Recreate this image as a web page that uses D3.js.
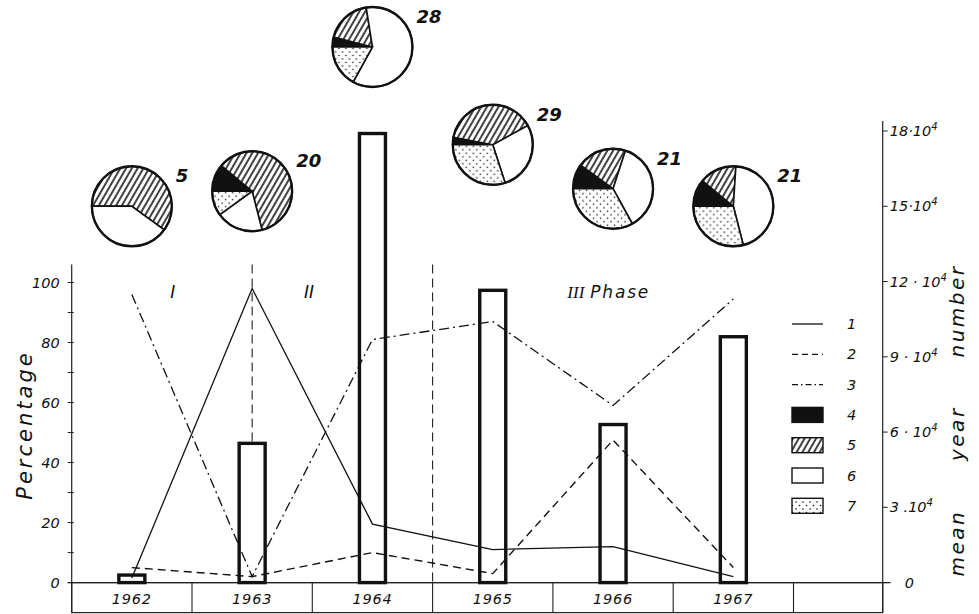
<!DOCTYPE html>
<html><head><meta charset="utf-8">
<script src="https://cdn.jsdelivr.net/npm/d3@7"></script>
<style>
body{margin:0;background:#fff}
text{font-family:"DejaVu Sans",sans-serif;font-style:italic;fill:#111}
</style>
</head><body>
<svg id="c" width="979" height="614"></svg>
<script>
// ---------- data ----------
const years = ["1962","1963","1964","1965","1966","1967"];
const line1 = [1.5, 98, 19.5, 11, 12, 2];      // %
const line2 = [5, 2, 10, 3, 47.5, 5];          // %
const line3 = [96, 2, 81, 87, 59, 94.5];       // %
const meanNumber = [0.3, 5.55, 17.9, 11.65, 6.3, 9.8]; // x10^4 (bars)
const share4 = [0, 11, 4, 3, 10, 11];
const share5 = [60, 60, 18.5, 39, 20, 15];
const share6 = [40, 19, 60.5, 28, 37, 45];
const share7 = [0, 10, 17, 30, 33, 29];
const pieCounts = ["5","20","28","29","21","21"];
const pieLevel = [15.0, 15.6, 21.35, 17.45, 15.7, 15.0]; // in right-axis units
const leftTicks = [0,20,40,60,80,100];
const leftMinor = [10,30,50,70,90];
const rightTicks = [0,3,6,9,12,15,18];
const rightTickLabels = ["0","3 .10","6 · 10","9 · 10","12 · 10","15·10","18·10"];
const legendLabels = ["1","2","3","4","5","6","7"];
const phaseLabels = ["I","II","III"];

// ---------- layout ----------
const svg = d3.select("#c");
const left = 71.7, right = 882.7, base = 582.6, boxH = 30;
const x = d3.scaleBand().domain(years).range([left, 793.5]).padding(0);
const bw = x.bandwidth();
const cx = d => x(d) + bw/2;
const yL = d3.scaleLinear().domain([0,100]).range([base, 282.5]);
const yR = d3.scaleLinear().domain([0,18]).range([base, 131]);

// patterns
const defs = svg.append("defs");
const ph = defs.append("pattern").attr("id","hatch").attr("patternUnits","userSpaceOnUse")
  .attr("width",5).attr("height",10).attr("patternTransform","rotate(30)");
ph.append("rect").attr("width",5).attr("height",10).attr("fill","#fff");
ph.append("line").attr("x1",1).attr("x2",1).attr("y1",-1).attr("y2",11).attr("stroke","#111").attr("stroke-width",1.6);
const pd = defs.append("pattern").attr("id","dots").attr("patternUnits","userSpaceOnUse")
  .attr("width",7).attr("height",7);
pd.append("rect").attr("width",7).attr("height",7).attr("fill","#fff");
pd.append("circle").attr("cx",1.5).attr("cy",1.5).attr("r",0.8).attr("fill","#111");
pd.append("circle").attr("cx",5).attr("cy",5).attr("r",0.8).attr("fill","#111");
const fills = ["#111","url(#hatch)","#fff","url(#dots)"];

// bottom box
svg.append("rect").attr("x",left).attr("y",base).attr("width",right-left).attr("height",boxH)
  .attr("fill","none").attr("stroke","#222").attr("stroke-width",1.2);
svg.selectAll(".div").data(years.slice(1).concat(["end"])).enter().append("line")
  .attr("x1",(d,i)=> i<5 ? x(d) : x("1967")+bw).attr("x2",(d,i)=> i<5 ? x(d) : x("1967")+bw)
  .attr("y1",base).attr("y2",base+boxH).attr("stroke","#222").attr("stroke-width",1.1);
svg.selectAll(".yr").data(years).enter().append("text")
  .attr("x",d=>cx(d)).attr("y",base+21).attr("text-anchor","middle").attr("font-size",14.5).attr("letter-spacing",0.8).text(d=>d);

// axes lines
svg.append("line").attr("x1",left).attr("x2",left).attr("y1",yL(106)).attr("y2",base+boxH).attr("stroke","#222").attr("stroke-width",1.2);
svg.append("line").attr("x1",right).attr("x2",right).attr("y1",yR(18.4)).attr("y2",base+boxH).attr("stroke","#222").attr("stroke-width",1.2);
svg.append("line").attr("x1",left-4).attr("x2",right+8).attr("y1",base).attr("y2",base).attr("stroke","#222").attr("stroke-width",1.3);

// left ticks
svg.selectAll(".lt").data(leftTicks.concat(leftMinor)).enter().append("line")
  .attr("x1",left-4).attr("x2",left+2).attr("y1",d=>yL(d)).attr("y2",d=>yL(d)).attr("stroke","#222");
svg.selectAll(".ll").data(leftTicks).enter().append("text")
  .attr("x",left-12).attr("y",d=>yL(d)+5).attr("text-anchor","end").attr("font-size",14.5).text(d=>d);

// right ticks
svg.selectAll(".rt").data(rightTicks).enter().append("line")
  .attr("x1",right).attr("x2",right+5).attr("y1",d=>yR(d)).attr("y2",d=>yR(d)).attr("stroke","#222");
const rl = svg.selectAll(".rl").data(rightTicks).enter().append("text")
  .attr("x",(d,i)=> i===0 ? right+22 : right+7).attr("y",d=>yR(d)+5).attr("font-size",14.5);
rl.each(function(d,i){
  const t = d3.select(this);
  t.append("tspan").text(rightTickLabels[i]);
  if(i>0) t.append("tspan").attr("dy",-6).attr("font-size",10).text("4");
});

// axis titles
svg.append("text").attr("transform",`translate(32,${yL(52.5)}) rotate(-90)`).attr("text-anchor","middle")
  .attr("font-size",21).attr("letter-spacing",3).text("Percentage");
svg.append("text").attr("transform",`translate(964,${yL(54)}) rotate(-90)`).attr("text-anchor","middle")
  .attr("font-size",20).attr("letter-spacing",2.5).attr("word-spacing",40).attr("xml:space","preserve").text("mean year number");

// phase dividers
[cx("1963"), x("1965")].forEach(px=>{
  svg.append("line").attr("x1",px).attr("x2",px).attr("y1",yL(106)).attr("y2",base)
    .attr("stroke","#222").attr("stroke-width",1.1).attr("stroke-dasharray","9,5");
});
svg.append("text").attr("x",x("1962")+bw*0.82).attr("y",yL(95)).attr("font-size",17)
  .attr("font-family","Liberation Serif").text(phaseLabels[0]);
svg.append("text").attr("x",x("1963")+bw*0.93).attr("y",yL(95)).attr("font-size",17)
  .attr("font-family","Liberation Serif").text(phaseLabels[1]);
const p3 = svg.append("text").attr("x",x("1965")+bw*1.12).attr("y",yL(95)).attr("font-size",17);
p3.append("tspan").attr("font-family","Liberation Serif").text(phaseLabels[2]);
p3.append("tspan").attr("dx",6).attr("letter-spacing",1.8).text("Phase");

// bars
const barW = 26;
svg.selectAll(".bar").data(years).enter().append("rect")
  .attr("x",d=>cx(d)-barW/2).attr("width",barW)
  .attr("y",(d,i)=>yR(meanNumber[i])).attr("height",(d,i)=>base-yR(meanNumber[i]))
  .attr("fill","#fff").attr("stroke","#111").attr("stroke-width",3.4);

// lines
const lineGen = data => d3.line().x((d,i)=>cx(years[i])).y(d=>yL(d))(data);
svg.append("path").attr("d",lineGen(line1)).attr("fill","none").attr("stroke","#111").attr("stroke-width",1.3);
svg.append("path").attr("d",lineGen(line2)).attr("fill","none").attr("stroke","#111").attr("stroke-width",1.4).attr("stroke-dasharray","8,5");
svg.append("path").attr("d",lineGen(line3)).attr("fill","none").attr("stroke","#111").attr("stroke-width",1.3).attr("stroke-dasharray","10,4,2,4");

// pies
const pie = d3.pie().sort(null).startAngle(-Math.PI/2).endAngle(Math.PI*1.5);
const R = 40;
const arc = d3.arc().innerRadius(0).outerRadius(R);
years.forEach((yr,i)=>{
  const vals = [share4[i],share5[i],share6[i],share7[i]];
  const g = svg.append("g").attr("transform",`translate(${cx(yr)},${yR(pieLevel[i])})`);
  g.selectAll("path").data(pie(vals)).enter().append("path")
    .attr("d",arc).attr("fill",(d,j)=>fills[j]).attr("stroke","#111").attr("stroke-width",1.6);
  g.append("circle").attr("r",R).attr("fill","none").attr("stroke","#111").attr("stroke-width",2.4);
  g.append("text").attr("x",R+4).attr("y",-24).attr("font-size",18).attr("font-weight","bold").text(pieCounts[i]);
});

// legend
const lgX = 792, lgW = 31, lgY0 = 324, lgStep = 30.3;
const dashes = [null,"6,4","6,3,1.5,3"];
legendLabels.forEach((lab,i)=>{
  const yy = lgY0 + i*lgStep;
  if(i<3){
    svg.append("line").attr("x1",lgX).attr("x2",lgX+lgW).attr("y1",yy).attr("y2",yy)
      .attr("stroke","#111").attr("stroke-width",1.3).attr("stroke-dasharray",dashes[i]);
  } else {
    svg.append("rect").attr("x",lgX).attr("y",yy-7.5).attr("width",lgW).attr("height",15)
      .attr("fill",fills[i-3]).attr("stroke","#111").attr("stroke-width",1.4);
  }
  svg.append("text").attr("x",lgX+55).attr("y",yy+5).attr("font-size",14.5).text(lab);
});
</script>
</body></html>
